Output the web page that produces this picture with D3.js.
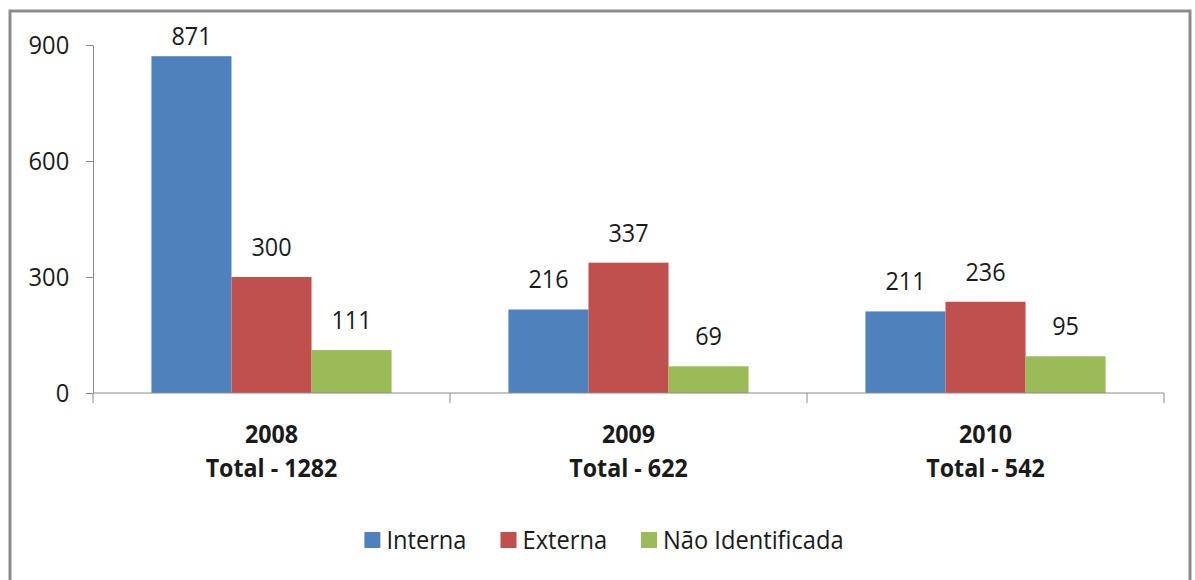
<!DOCTYPE html>
<html>
<head>
<meta charset="utf-8">
<script src="https://cdn.jsdelivr.net/npm/d3@7"></script>
<style>
  body { margin: 0; background: #fff; }
  text { font-family: "Open Sans", sans-serif; fill: #1a1a1a; }
</style>
</head>
<body>
<script>
var years = ["2008", "2009", "2010"];
var series = ["Interna", "Externa", "Não Identificada"];
var interna = [871, 216, 211];
var externa = [300, 337, 236];
var naoIdent = [111, 69, 95];
var yTicks = [0, 300, 600, 900];
var colors = ["#4F81BD", "#C0504D", "#9BBB59"];

var width = 1195,
    height = 580;

var values = [interna, externa, naoIdent];

var svg = d3.select("body").append("svg")
    .attr("width", width)
    .attr("height", height);

// outer frame
svg.append("rect")
    .attr("x", 10).attr("y", 11)
    .attr("width", 1180).attr("height", 640)
    .attr("fill", "#fff")
    .attr("stroke", "#8c8c8c")
    .attr("stroke-width", 3);

var x = d3.scaleBand().domain(years).range([93, 1164]);
var xs = d3.scaleBand().domain(series).range([0, x.bandwidth()]).paddingOuter(0.73);
var y = d3.scaleLinear().domain([0, 900]).range([393, 45]);

// y axis
var yAxis = svg.append("g")
    .attr("transform", "translate(93,0)")
    .call(d3.axisLeft(y).tickValues(yTicks).tickSize(7).tickSizeOuter(0).tickPadding(18));
yAxis.select(".domain").attr("stroke", "#8a8a8a");
yAxis.selectAll(".tick line").attr("stroke", "#8a8a8a");
yAxis.selectAll(".tick text")
    .attr("font-size", 25)
    .attr("font-family", "Open Sans")
    .attr("fill", "#1a1a1a")
    .attr("transform", "scale(0.95,1)");

// bars
var groups = svg.selectAll("g.year")
    .data(years)
    .enter().append("g")
    .attr("class", "year")
    .attr("transform", function(d) { return "translate(" + x(d) + ",0)"; });

function cells(d, i) {
  return series.map(function(s, j) { return {s: s, v: values[j][i], c: colors[j]}; });
}

groups.selectAll("rect")
    .data(cells)
    .enter().append("rect")
    .attr("x", function(d) { return xs(d.s); })
    .attr("y", function(d) { return y(d.v); })
    .attr("width", xs.bandwidth())
    .attr("height", function(d) { return y(0) - y(d.v); })
    .attr("fill", function(d) { return d.c; });

// value labels
groups.selectAll("text.val")
    .data(cells)
    .enter().append("text")
    .attr("class", "val")
    .attr("text-anchor", "middle")
    .attr("font-size", 26)
    .attr("transform", function(d) {
      var ty = Math.max(y(d.v) - 21, y.range()[1]);
      return "translate(" + (xs(d.s) + xs.bandwidth() / 2) + "," + ty + ") scale(0.9,1)";
    })
    .text(function(d) { return d.v; });

// x axis
var xAxis = svg.append("g").attr("transform", "translate(0,393)");
xAxis.append("line")
    .attr("x1", x.range()[0]).attr("x2", x.range()[1])
    .attr("stroke", "#8a8a8a");
var bounds = years.map(function(d) { return x(d); }).concat([x.range()[1]]);
xAxis.selectAll("line.tk")
    .data(bounds)
    .enter().append("line")
    .attr("class", "tk")
    .attr("x1", function(d) { return d; }).attr("x2", function(d) { return d; })
    .attr("y1", 0).attr("y2", 10)
    .attr("stroke", "#8a8a8a");

// category labels
var cat = svg.selectAll("g.cat")
    .data(years)
    .enter().append("g")
    .attr("class", "cat")
    .attr("transform", function(d) { return "translate(" + (x(d) + x.bandwidth() / 2) + ",0)"; });
cat.append("text")
    .attr("text-anchor", "middle")
    .attr("font-size", 25)
    .attr("font-weight", "bold")
    .attr("transform", "translate(0,443) scale(0.93,1)")
    .text(function(d) { return d; });
cat.append("text")
    .attr("text-anchor", "middle")
    .attr("font-size", 25)
    .attr("font-weight", "bold")
    .attr("transform", "translate(0,477) scale(0.93,1)")
    .text(function(d, i) { return "Total - " + d3.sum(values, function(v) { return v[i]; }); });

// legend
var legend = svg.append("g");
var items = legend.selectAll("g")
    .data(series)
    .enter().append("g");
items.append("rect")
    .attr("y", 532)
    .attr("width", 16).attr("height", 16)
    .attr("fill", function(d, i) { return colors[i]; });
items.append("text")
    .attr("font-size", 26)
    .attr("transform", "translate(22,549) scale(0.91,1)")
    .text(function(d) { return d; });

var pos = 0, gap = 34;
items.each(function() {
  var w = 22 + this.querySelector("text").getComputedTextLength() * 0.91;
  d3.select(this).attr("data-x", pos);
  pos += w + gap;
});
var total = pos - gap;
var start = 604 - total / 2;
items.attr("transform", function() { return "translate(" + (start + (+this.getAttribute("data-x"))) + ",0)"; });
</script>
</body>
</html>
